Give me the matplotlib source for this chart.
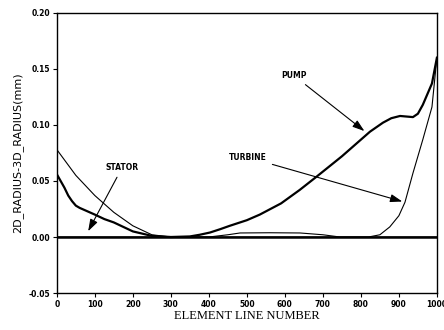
import matplotlib.pyplot as plt

# =========================
# DATA
# =========================
pump_x = [0, 10, 20, 30, 40, 50, 60, 80, 100, 125, 150, 175, 200, 225, 250,
          300, 350, 376, 403, 430, 455, 500, 534, 590, 639, 684, 750, 824,
          858, 880, 903, 937, 950, 963, 987, 1000]
pump_y = [0.056, 0.050, 0.044, 0.037, 0.032, 0.028, 0.026, 0.023, 0.020,
          0.016, 0.013, 0.009, 0.005, 0.003, 0.001, 0.0, 0.0005, 0.002,
          0.004, 0.007, 0.010, 0.015, 0.020, 0.030, 0.042, 0.054, 0.072,
          0.094, 0.102, 0.106, 0.108, 0.107, 0.110, 0.118, 0.137, 0.160]

stator_x = [0, 50, 100, 150, 200, 250, 300, 400, 450, 482, 560, 640, 700,
            745, 1000]
stator_y = [0.078, 0.055, 0.037, 0.022, 0.010, 0.002, 0.0, 0.0, 0.002,
            0.0036, 0.0038, 0.0036, 0.002, 0.0, 0.0]

turbine_x = [0, 820, 850, 876, 900, 916, 937, 963, 987, 1000]
turbine_y = [0.0, 0.0, 0.002, 0.009, 0.019, 0.031, 0.057, 0.087, 0.116, 0.160]

x_ticks = [0, 100, 200, 300, 400, 500, 600, 700, 800, 900, 1000]
y_ticks = [-0.05, 0.00, 0.05, 0.10, 0.15, 0.20]

# =========================
# PLOT
# =========================
fig = plt.figure(figsize=(4.44, 3.30), dpi=100)
ax = fig.add_axes([0.128, 0.112, 0.856, 0.849])

ax.axhline(0, color="black", lw=1.8)
ax.plot(turbine_x, turbine_y, color="black", lw=0.8)
ax.plot(stator_x, stator_y, color="black", lw=0.8)
ax.plot(pump_x, pump_y, color="black", lw=1.6)

arrow = dict(arrowstyle="-|>,head_length=0.6,head_width=0.2", color="black",
             lw=0.8, mutation_scale=12)
txt = dict(fontsize=5.5, fontweight="bold", ha="center", va="center")
ax.annotate("PUMP", xy=(815, 0.093), xytext=(624, 0.144),
            arrowprops=arrow, **txt)
ax.annotate("TURBINE", xy=(916, 0.031), xytext=(503, 0.071),
            arrowprops=arrow, **txt)
ax.annotate("STATOR", xy=(79, 0.003), xytext=(172, 0.062),
            arrowprops=arrow, **txt)

ax.set_xlim(0, 1000)
ax.set_ylim(-0.05, 0.20)
ax.set_xticks(x_ticks)
ax.set_yticks(y_ticks)
ax.set_xticklabels([str(v) for v in x_ticks], fontsize=5.5, fontweight="bold")
ax.set_yticklabels([f"{v:.2f}" for v in y_ticks], fontsize=5.5, fontweight="bold")
ax.tick_params(direction="out", length=3, width=0.8, pad=2)

ax.set_xlabel("ELEMENT LINE NUMBER", fontsize=9, family="Liberation Serif", labelpad=1)
ax.set_ylabel("2D_RADIUS-3D_RADIUS(mm)", fontsize=8, labelpad=4)

for s in ax.spines.values():
    s.set_linewidth(1.0)

fig.savefig("out.png", dpi=100)
